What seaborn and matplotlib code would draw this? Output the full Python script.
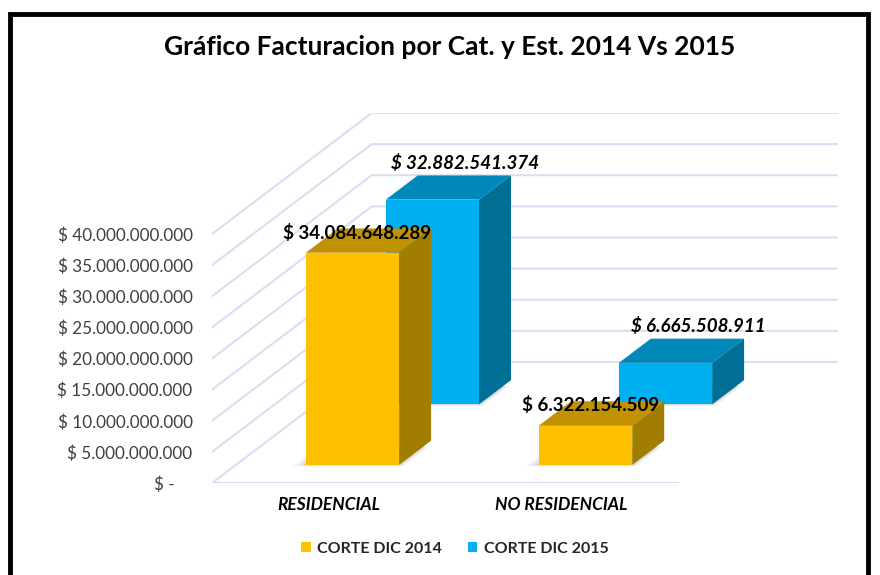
import matplotlib.pyplot as plt
import seaborn as sns
from matplotlib.patches import Polygon, Rectangle, Patch
from matplotlib.ticker import FuncFormatter

# Data
categories = ["RESIDENCIAL", "NO RESIDENCIAL"]
series_names = ["CORTE DIC 2014", "CORTE DIC 2015"]
values_2014 = [34084648289, 6322154509]
values_2015 = [32882541374, 6665508911]
y_ticks = [0, 5e9, 10e9, 15e9, 20e9, 25e9, 30e9, 35e9, 40e9]

front_colors = ["#FFC000", "#00B0F0"]
top_colors = ["#C09100", "#0088BA"]
side_colors = ["#A17D00", "#006F96"]
label_offsets = [(-11, 8), (17, 25)]   # pixels, per series
label_styles = ["normal", "italic"]

sns.set_theme(style="white")
plt.rcParams['font.family'] = ['Lato', 'DejaVu Sans']

fig = plt.figure(figsize=(8.8, 5.75), dpi=100)
ax = fig.add_axes([212 / 880, 1 - 483 / 575, 626 / 880, 370 / 575])

# oblique projection: depth is measured in series rows
n_rows = len(series_names)
depth_dx = 0.3427      # category units per row
depth_dy = 9.72e9      # value units per row
ax.set_xlim(-0.5, len(categories) - 0.5 + n_rows * depth_dx)
ax.set_ylim(0, y_ticks[-1] + n_rows * depth_dy)


def proj(x, v, d):
    return (x + d * depth_dx, v + d * depth_dy)


# Walls / gridlines
grid_color = "#D6E0F2"
x_left, x_right = -0.5, len(categories) - 0.5
for v in y_ticks:
    p0 = proj(x_left, v, 0)
    p1 = proj(x_left, v, n_rows)
    p2 = proj(x_right, v, n_rows)
    ax.plot([p0[0], p1[0], p2[0]], [p0[1], p1[1], p2[1]], color=grid_color, lw=1.5, zorder=0)
ax.plot([x_left, x_right], [0, 0], color=grid_color, lw=1.7, zorder=0)

# 3D bars, back row first
bar_w = 0.4
bar_d = 0.4
series_values = [values_2014, values_2015]
z = 1
for r in reversed(range(n_rows)):
    d0 = r + 0.5 - bar_d / 2
    d1 = r + 0.5 + bar_d / 2
    for i, v in enumerate(series_values[r]):
        x0 = i - bar_w / 2
        x1 = i + bar_w / 2
        # soft floor shadow
        for k, a in [(0.05, 0.08), (0.03, 0.12), (0.012, 0.18)]:
            shadow = [proj(x0 - k, 0, d0 - k / 2), proj(x1 + k / 2, 0, d0 - k / 2),
                      proj(x1 + k / 2, 0, d1 - 0.1), proj(x0 - k, 0, d1 - 0.1)]
            ax.add_patch(Polygon(shadow, closed=True, fc="#7F7F7F", ec="none", alpha=a, zorder=z))
        front = [proj(x0, 0, d0), proj(x1, 0, d0), proj(x1, v, d0), proj(x0, v, d0)]
        top = [proj(x0, v, d0), proj(x1, v, d0), proj(x1, v, d1), proj(x0, v, d1)]
        side = [proj(x1, 0, d0), proj(x1, 0, d1), proj(x1, v, d1), proj(x1, v, d0)]
        ax.add_patch(Polygon(front, closed=True, fc=front_colors[r], ec="none", zorder=z + 1))
        ax.add_patch(Polygon(top, closed=True, fc=top_colors[r], ec="none", zorder=z + 1))
        ax.add_patch(Polygon(side, closed=True, fc=side_colors[r], ec="none", zorder=z + 1))
        lx, ly = proj(i, v, r + 0.5)
        txt = "$ " + f"{v:,.0f}".replace(",", ".")
        ax.annotate(txt, (lx, ly), xytext=label_offsets[r], textcoords="offset pixels",
                    ha="center", va="center", fontsize=13.5, fontweight="bold",
                    fontstyle=label_styles[r], color="black", zorder=10)
    z += 2

# Axes styling
ax.set_yticks(y_ticks)
ax.yaxis.set_major_formatter(FuncFormatter(
    lambda v, p: "$ -    " if v == 0 else "$ " + f"{v:,.0f}".replace(",", ".")))
ax.set_xticks(range(len(categories)))
ax.set_xticklabels(categories, fontstyle="italic", fontweight="bold", fontsize=12.5, color="black")
ax.tick_params(axis="y", length=0, pad=14, labelsize=12.3, labelcolor="#404040")
ax.tick_params(axis="x", length=0, pad=10)
for s in ax.spines.values():
    s.set_visible(False)
ax.set_facecolor("none")

# Title
fig.text(450 / 880, 1 - 47 / 575, "Gráfico Facturacion por Cat. y Est. 2014 Vs 2015",
         ha="center", va="center", fontsize=19, fontweight="bold", color="black")

# Legend
handles = [Patch(facecolor=c, edgecolor="none") for c in front_colors]
fig.legend(handles, series_names, loc="center", bbox_to_anchor=(455 / 880, 1 - 549 / 575),
           ncol=2, frameon=False, handlelength=0.6, handleheight=0.6, handletextpad=0.4,
           columnspacing=1.6, prop={"weight": "bold", "size": 11.5})

# Outer frame
fig.patches.append(Rectangle((10 / 880, -0.05), 858 / 880, 1.05 - 14 / 575,
                             transform=fig.transFigure, fill=False, ec="black", lw=3.5))

fig.savefig("out.png", dpi=100)
